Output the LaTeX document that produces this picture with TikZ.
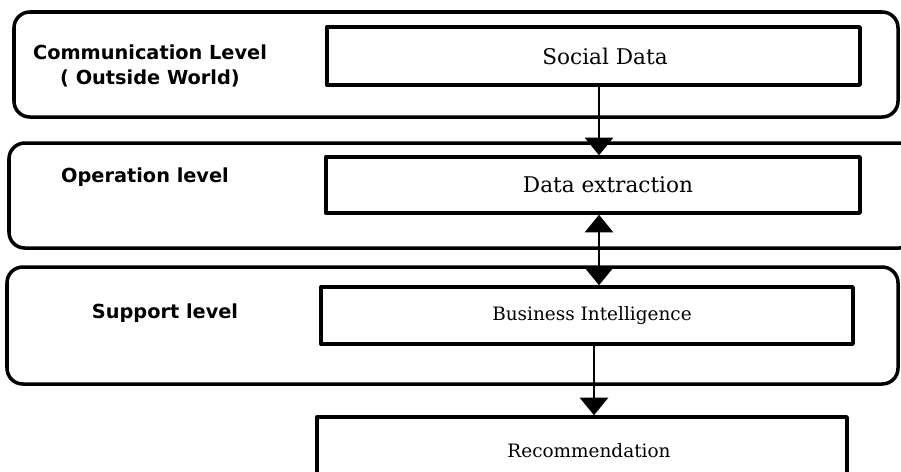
\documentclass[tikz,border=0pt]{standalone}
\usepackage{fontspec}
\setmainfont{DejaVu Serif}
\setsansfont{DejaVu Sans}
\usetikzlibrary{arrows.meta,positioning}

\tikzset{
    level/.style={draw, line width=2pt, rounded corners=9pt},
    levellabel/.style={font=\sffamily\bfseries\fontsize{11}{14}\selectfont, align=center},
    stage/.style={draw, line width=2pt, inner sep=0pt, font=\fontsize{10.5}{12}\selectfont},
    bigstage/.style={stage, font=\fontsize{12.3}{14}\selectfont},
    flow/.style={line width=1.4pt, -{Triangle[width=16pt,length=10pt]}},
    twoway/.style={line width=1.4pt, {Triangle[width=16pt,length=10pt]}-{Triangle[width=16pt,length=10pt]}}
}

\begin{document}
\begin{tikzpicture}[x=0.02cm, y=-0.02cm, line cap=round, line join=round]

    \useasboundingbox (0,0) rectangle (901,471);
    \clip (0,0) rectangle (901,471);

    % levels
    \draw[level] (14,12) rectangle (898,117); % communication
    \draw[level] (9,143) rectangle (915,248); % operation
    \draw[level] (7,267) rectangle (898,384); % support

    % labels
    \node[levellabel] (comlbl) at (150,66) {Communication Level\\( Outside World)};
    \node[levellabel] (oplbl) at (145,177) {Operation level};
    \node[levellabel] (suplbl) at (165,313) {Support level};

    % boxes
    \node[bigstage, minimum width=10.66cm, minimum height=1.16cm] (social) at (593.5,56) {\hspace*{0.46cm}Social Data};
    \node[bigstage, minimum width=10.68cm, minimum height=1.12cm] (extract) at (593,185) {\hspace*{0.6cm}Data extraction};
    \node[stage, minimum width=10.64cm, minimum height=1.14cm] (bi) at (587,315.5) {\hspace*{0.2cm}Business Intelligence};
    \node[stage, minimum width=10.6cm, minimum height=1.36cm] (rec) at (582,451) {\hspace*{0.28cm}Recommendation};

    % arrows
    \coordinate (upx) at (599,0);
    \coordinate (lowx) at (594,0);
    \draw[flow] (social.south -| upx) -- (extract.north -| upx);
    \draw[twoway] (extract.south -| upx) -- (bi.north -| upx);
    \draw[flow] (bi.south -| lowx) -- (rec.north -| lowx);

\end{tikzpicture}
\end{document}
